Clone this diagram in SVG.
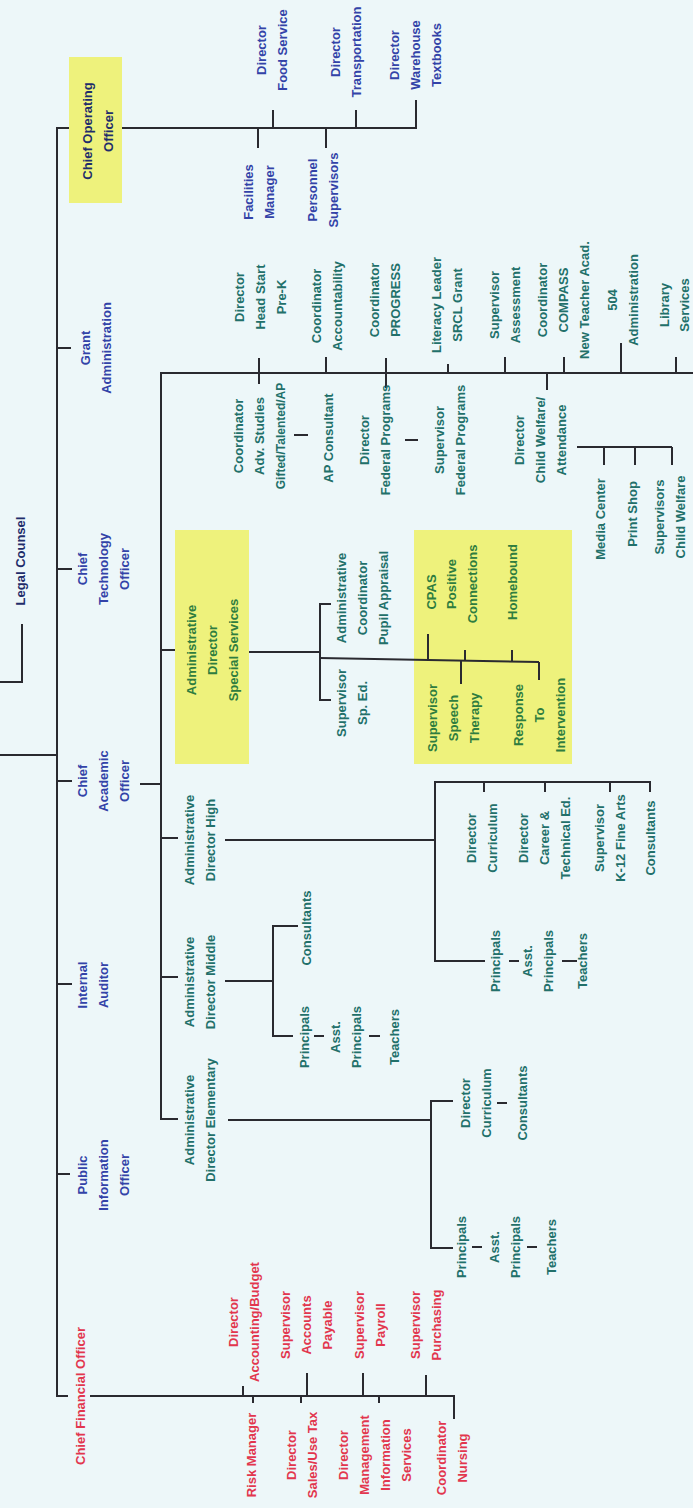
<svg xmlns="http://www.w3.org/2000/svg" width="693" height="1508" viewBox="0 0 693 1508">
<style>
text{font-family:"Liberation Sans",Arial,sans-serif;font-size:13px;font-weight:bold;text-anchor:middle}
.nv{fill:#1f2d6b}.bl{fill:#3343a8}.tl{fill:#22706a}.gr{fill:#2f7d3f}.rd{fill:#e2364e}
.sm{font-size:12px}
.box{fill:#eef27c}
#connectors line,#connectors polyline{stroke:#2a2a30;stroke-width:2;fill:none}
</style>
<rect width="693" height="1508" fill="#edf7f9"/>
<g id="n-special-services"><rect class="box" x="175" y="530" width="74" height="234"/>
<text class="gr" transform="translate(212,650) rotate(-90)"><tspan x="0" y="-16.4">Administrative</tspan><tspan x="0" y="4.6">Director</tspan><tspan x="0" y="25.6">Special Services</tspan></text></g>
<g id="highlight-programs"><rect class="box" x="414" y="530" width="158" height="234"/></g>
<g id="n-coo"><rect class="box" x="69" y="57" width="53" height="146"/>
<text class="nv" transform="translate(97.5,131) rotate(-90)"><tspan x="0" y="-5.9">Chief Operating</tspan><tspan x="0" y="15.1">Officer</tspan></text></g>

<g id="connectors">
<line x1="0" y1="755" x2="57" y2="755"/>
<polyline points="0,682 22,682 22,624"/>
<line x1="57" y1="127" x2="57" y2="1397"/>
<line x1="57" y1="128" x2="69" y2="128"/>
<line x1="122" y1="128" x2="417" y2="128"/>
<line x1="273" y1="110" x2="273" y2="128"/>
<line x1="356" y1="110" x2="356" y2="128"/>
<line x1="416" y1="100" x2="416" y2="128"/>
<line x1="258" y1="128" x2="258" y2="148"/>
<line x1="326" y1="128" x2="326" y2="148"/>
<line x1="57" y1="348" x2="71" y2="348"/>
<line x1="57" y1="569" x2="72" y2="569"/>
<line x1="57" y1="781" x2="72" y2="781"/>
<line x1="140" y1="784" x2="161" y2="784"/>
<line x1="57" y1="984" x2="72" y2="984"/>
<line x1="57" y1="1174" x2="70" y2="1174"/>
<line x1="57" y1="1396" x2="68" y2="1396"/>
<polyline points="90,1396 454,1396 454,1419"/>
<line x1="243" y1="1386" x2="243" y2="1396"/>
<line x1="307" y1="1373" x2="307" y2="1396"/>
<line x1="363" y1="1373" x2="363" y2="1396"/>
<line x1="426" y1="1375" x2="426" y2="1396"/>
<line x1="253" y1="1396" x2="253" y2="1403"/>
<line x1="301" y1="1396" x2="301" y2="1403"/>
<line x1="379" y1="1396" x2="379" y2="1403"/>
<line x1="161" y1="372" x2="161" y2="1120"/>
<line x1="161" y1="373" x2="693" y2="373"/>
<line x1="259" y1="358" x2="259" y2="384"/>
<line x1="326" y1="357" x2="326" y2="373"/>
<line x1="386" y1="358" x2="386" y2="388"/>
<line x1="448" y1="364" x2="448" y2="373"/>
<line x1="505" y1="357" x2="505" y2="373"/>
<line x1="564" y1="357" x2="564" y2="373"/>
<line x1="621" y1="343" x2="621" y2="373"/>
<line x1="676" y1="357" x2="676" y2="373"/>
<line x1="547" y1="373" x2="547" y2="390"/>
<line x1="294" y1="435" x2="308" y2="435"/>
<line x1="405" y1="440" x2="418" y2="440"/>
<line x1="577" y1="447" x2="672" y2="447"/>
<line x1="604" y1="447" x2="604" y2="465"/>
<line x1="635" y1="447" x2="635" y2="465"/>
<line x1="672" y1="447" x2="672" y2="465"/>
<line x1="161" y1="650" x2="175" y2="650"/>
<line x1="249" y1="652" x2="320" y2="652"/>
<polyline points="331,604 320,604 320,700 331,700"/>
<line x1="320" y1="658" x2="539" y2="662"/>
<line x1="428" y1="634" x2="428" y2="660"/>
<line x1="465" y1="650" x2="465" y2="661"/>
<line x1="512" y1="650" x2="512" y2="662"/>
<line x1="461" y1="661" x2="461" y2="684"/>
<line x1="539" y1="662" x2="539" y2="680"/>
<line x1="161" y1="838" x2="178" y2="838"/>
<line x1="225" y1="840" x2="435" y2="840"/>
<polyline points="485,961 435,961 435,782 650,782 650,792"/>
<line x1="484" y1="782" x2="484" y2="792"/>
<line x1="545" y1="782" x2="545" y2="792"/>
<line x1="610" y1="782" x2="610" y2="792"/>
<line x1="509" y1="961" x2="519" y2="961"/>
<line x1="562" y1="961" x2="577" y2="961"/>
<line x1="161" y1="977" x2="178" y2="977"/>
<line x1="225" y1="981" x2="273" y2="981"/>
<polyline points="298,926 273,926 273,1036 293,1036"/>
<line x1="314" y1="1036" x2="324" y2="1036"/>
<line x1="369" y1="1036" x2="380" y2="1036"/>
<line x1="161" y1="1119" x2="178" y2="1119"/>
<line x1="228" y1="1120" x2="431" y2="1120"/>
<polyline points="453,1101 431,1101 431,1248 453,1248"/>
<line x1="497" y1="1103" x2="507" y2="1103"/>
<line x1="472" y1="1247" x2="482" y2="1247"/>
<line x1="527" y1="1247" x2="537" y2="1247"/>
</g>

<g id="n-legal"><text class="nv" transform="translate(20,561) rotate(-90)"><tspan x="0" y="4.6">Legal Counsel</tspan></text></g>
<g id="n-grant"><text class="bl" transform="translate(96,348) rotate(-90)"><tspan x="0" y="-5.9">Grant</tspan><tspan x="0" y="15.1">Administration</tspan></text></g>
<g id="n-cto"><text class="bl" transform="translate(103,569) rotate(-90)"><tspan x="0" y="-16.4">Chief</tspan><tspan x="0" y="4.6">Technology</tspan><tspan x="0" y="25.6">Officer</tspan></text></g>
<g id="n-cao"><text class="bl" transform="translate(103,781) rotate(-90)"><tspan x="0" y="-16.4">Chief</tspan><tspan x="0" y="4.6">Academic</tspan><tspan x="0" y="25.6">Officer</tspan></text></g>
<g id="n-auditor"><text class="bl" transform="translate(92.5,985) rotate(-90)"><tspan x="0" y="-5.9">Internal</tspan><tspan x="0" y="15.1">Auditor</tspan></text></g>
<g id="n-pio"><text class="bl" transform="translate(103,1175) rotate(-90)"><tspan x="0" y="-16.4">Public</tspan><tspan x="0" y="4.6">Information</tspan><tspan x="0" y="25.6">Officer</tspan></text></g>
<g id="n-cfo"><text class="rd" transform="translate(80,1396) rotate(-90)"><tspan x="0" y="4.6">Chief Financial Officer</tspan></text></g>

<g id="n-food"><text class="bl" transform="translate(272,50) rotate(-90)"><tspan x="0" y="-5.9">Director</tspan><tspan x="0" y="15.1">Food Service</tspan></text></g>
<g id="n-transport"><text class="bl" transform="translate(346,52) rotate(-90)"><tspan x="0" y="-5.9">Director</tspan><tspan x="0" y="15.1">Transportation</tspan></text></g>
<g id="n-warehouse"><text class="bl" transform="translate(415,55) rotate(-90)"><tspan x="0" y="-16.4">Director</tspan><tspan x="0" y="4.6">Warehouse</tspan><tspan x="0" y="25.6">Textbooks</tspan></text></g>
<g id="n-facilities"><text class="bl" transform="translate(258.5,192) rotate(-90)"><tspan x="0" y="-5.9">Facilities</tspan><tspan x="0" y="15.1">Manager</tspan></text></g>
<g id="n-personnel"><text class="bl" transform="translate(322.5,190) rotate(-90)"><tspan x="0" y="-5.9">Personnel</tspan><tspan x="0" y="15.1">Supervisors</tspan></text></g>

<g id="n-headstart"><text class="tl" transform="translate(260,297) rotate(-90)"><tspan x="0" y="-16.4">Director</tspan><tspan x="0" y="4.6">Head Start</tspan><tspan x="0" y="25.6">Pre-K</tspan></text></g>
<g id="n-accountability"><text class="tl" transform="translate(327,306) rotate(-90)"><tspan x="0" y="-5.9">Coordinator</tspan><tspan x="0" y="15.1">Accountability</tspan></text></g>
<g id="n-progress"><text class="tl" transform="translate(385,300) rotate(-90)"><tspan x="0" y="-5.9">Coordinator</tspan><tspan x="0" y="15.1">PROGRESS</tspan></text></g>
<g id="n-literacy"><text class="tl" transform="translate(447,305) rotate(-90)"><tspan x="0" y="-5.9">Literacy Leader</tspan><tspan x="0" y="15.1">SRCL Grant</tspan></text></g>
<g id="n-assessment"><text class="tl" transform="translate(504.5,305) rotate(-90)"><tspan x="0" y="-5.9">Supervisor</tspan><tspan x="0" y="15.1">Assessment</tspan></text></g>
<g id="n-compass"><text class="tl" transform="translate(563,300) rotate(-90)"><tspan x="0" y="-16.4">Coordinator</tspan><tspan x="0" y="4.6">COMPASS</tspan><tspan x="0" y="25.6">New Teacher Acad.</tspan></text></g>
<g id="n-504"><text class="tl" transform="translate(623,300) rotate(-90)"><tspan x="0" y="-5.9">504</tspan><tspan x="0" y="15.1">Administration</tspan></text></g>
<g id="n-library"><text class="tl" transform="translate(675,305) rotate(-90)"><tspan x="0" y="-5.9">Library</tspan><tspan x="0" y="14.1">Services</tspan></text></g>

<g id="n-advstudies"><text class="tl" transform="translate(259,436) rotate(-90)"><tspan x="0" y="-16.4">Coordinator</tspan><tspan x="0" y="4.6">Adv. Studies</tspan><tspan class="sm" x="0" y="25.6">Gifted/Talented/AP</tspan></text></g>
<g id="n-apconsultant"><text class="tl" transform="translate(328,438) rotate(-90)"><tspan x="0" y="4.6">AP Consultant</tspan></text></g>
<g id="n-dir-federal"><text class="tl" transform="translate(375,440) rotate(-90)"><tspan x="0" y="-5.9">Director</tspan><tspan x="0" y="15.1">Federal Programs</tspan></text></g>
<g id="n-sup-federal"><text class="tl" transform="translate(450,440) rotate(-90)"><tspan x="0" y="-5.9">Supervisor</tspan><tspan x="0" y="15.1">Federal Programs</tspan></text></g>
<g id="n-childwelfare"><text class="tl" transform="translate(540,440) rotate(-90)"><tspan x="0" y="-16.4">Director</tspan><tspan x="0" y="4.6">Child Welfare/</tspan><tspan x="0" y="25.6">Attendance</tspan></text></g>
<g id="n-media"><text class="tl" transform="translate(600,519) rotate(-90)"><tspan x="0" y="4.6">Media Center</tspan></text></g>
<g id="n-print"><text class="tl" transform="translate(632,514) rotate(-90)"><tspan x="0" y="4.6">Print Shop</tspan></text></g>
<g id="n-sup-cw"><text class="tl" transform="translate(670,517) rotate(-90)"><tspan x="0" y="-5.9">Supervisors</tspan><tspan x="0" y="15.1">Child Welfare</tspan></text></g>

<g id="n-pupil"><text class="tl" transform="translate(362,598) rotate(-90)"><tspan x="0" y="-16.4">Administrative</tspan><tspan x="0" y="4.6">Coordinator</tspan><tspan x="0" y="25.6">Pupil Appraisal</tspan></text></g>
<g id="n-sped"><text class="tl" transform="translate(352,703) rotate(-90)"><tspan x="0" y="-5.9">Supervisor</tspan><tspan x="0" y="15.1">Sp. Ed.</tspan></text></g>
<g id="n-cpas"><text class="gr" transform="translate(431,592) rotate(-90)"><tspan x="0" y="4.6">CPAS</tspan></text></g>
<g id="n-positive"><text class="gr" transform="translate(462,584) rotate(-90)"><tspan x="0" y="-5.9">Positive</tspan><tspan x="0" y="15.1">Connections</tspan></text></g>
<g id="n-homebound"><text class="gr" transform="translate(512,582) rotate(-90)"><tspan x="0" y="4.6">Homebound</tspan></text></g>
<g id="n-speech"><text class="gr" transform="translate(453,718) rotate(-90)"><tspan x="0" y="-16.4">Supervisor</tspan><tspan x="0" y="4.6">Speech</tspan><tspan x="0" y="25.6">Therapy</tspan></text></g>
<g id="n-rti"><text class="gr" transform="translate(539,715) rotate(-90)"><tspan x="0" y="-16.4">Response</tspan><tspan x="0" y="4.6">To</tspan><tspan x="0" y="25.6">Intervention</tspan></text></g>

<g id="n-ad-high"><text class="tl" transform="translate(200,840) rotate(-90)"><tspan x="0" y="-5.9">Administrative</tspan><tspan x="0" y="15.1">Director High</tspan></text></g>
<g id="n-high-curr"><text class="tl" transform="translate(482,838) rotate(-90)"><tspan x="0" y="-5.9">Director</tspan><tspan x="0" y="15.1">Curriculum</tspan></text></g>
<g id="n-high-career"><text class="tl" transform="translate(544,838) rotate(-90)"><tspan x="0" y="-16.4">Director</tspan><tspan x="0" y="4.6">Career &amp;</tspan><tspan x="0" y="25.6">Technical Ed.</tspan></text></g>
<g id="n-high-arts"><text class="tl" transform="translate(610,838) rotate(-90)"><tspan x="0" y="-5.9">Supervisor</tspan><tspan x="0" y="15.1">K-12 Fine Arts</tspan></text></g>
<g id="n-high-cons"><text class="tl" transform="translate(650,838) rotate(-90)"><tspan x="0" y="4.6">Consultants</tspan></text></g>
<g id="n-high-prin"><text class="tl" transform="translate(495,961) rotate(-90)"><tspan x="0" y="4.6">Principals</tspan></text></g>
<g id="n-high-asst"><text class="tl" transform="translate(538,961) rotate(-90)"><tspan x="0" y="-5.9">Asst.</tspan><tspan x="0" y="15.1">Principals</tspan></text></g>
<g id="n-high-teach"><text class="tl" transform="translate(582,961) rotate(-90)"><tspan x="0" y="4.6">Teachers</tspan></text></g>

<g id="n-ad-middle"><text class="tl" transform="translate(200,982) rotate(-90)"><tspan x="0" y="-5.9">Administrative</tspan><tspan x="0" y="15.1">Director Middle</tspan></text></g>
<g id="n-mid-cons"><text class="tl" transform="translate(306,928) rotate(-90)"><tspan x="0" y="4.6">Consultants</tspan></text></g>
<g id="n-mid-prin"><text class="tl" transform="translate(304,1037) rotate(-90)"><tspan x="0" y="4.6">Principals</tspan></text></g>
<g id="n-mid-asst"><text class="tl" transform="translate(346,1037) rotate(-90)"><tspan x="0" y="-5.9">Asst.</tspan><tspan x="0" y="15.1">Principals</tspan></text></g>
<g id="n-mid-teach"><text class="tl" transform="translate(394,1037) rotate(-90)"><tspan x="0" y="4.6">Teachers</tspan></text></g>

<g id="n-ad-elem"><text class="tl" transform="translate(200,1120) rotate(-90)"><tspan x="0" y="-5.9">Administrative</tspan><tspan x="0" y="15.1">Director Elementary</tspan></text></g>
<g id="n-elem-curr"><text class="tl" transform="translate(476,1103) rotate(-90)"><tspan x="0" y="-5.9">Director</tspan><tspan x="0" y="15.1">Curriculum</tspan></text></g>
<g id="n-elem-cons"><text class="tl" transform="translate(522,1103) rotate(-90)"><tspan x="0" y="4.6">Consultants</tspan></text></g>
<g id="n-elem-prin"><text class="tl" transform="translate(461,1247) rotate(-90)"><tspan x="0" y="4.6">Principals</tspan></text></g>
<g id="n-elem-asst"><text class="tl" transform="translate(504.5,1247) rotate(-90)"><tspan x="0" y="-5.9">Asst.</tspan><tspan x="0" y="15.1">Principals</tspan></text></g>
<g id="n-elem-teach"><text class="tl" transform="translate(551,1247) rotate(-90)"><tspan x="0" y="4.6">Teachers</tspan></text></g>

<g id="n-accounting"><text class="rd" transform="translate(243.5,1322) rotate(-90)"><tspan x="0" y="-5.9">Director</tspan><tspan x="0" y="15.1">Accounting/Budget</tspan></text></g>
<g id="n-payable"><text class="rd" transform="translate(306,1325) rotate(-90)"><tspan x="0" y="-16.4">Supervisor</tspan><tspan x="0" y="4.6">Accounts</tspan><tspan x="0" y="25.6">Payable</tspan></text></g>
<g id="n-payroll"><text class="rd" transform="translate(370,1325) rotate(-90)"><tspan x="0" y="-5.9">Supervisor</tspan><tspan x="0" y="15.1">Payroll</tspan></text></g>
<g id="n-purchasing"><text class="rd" transform="translate(426,1325) rotate(-90)"><tspan x="0" y="-5.9">Supervisor</tspan><tspan x="0" y="15.1">Purchasing</tspan></text></g>
<g id="n-risk"><text class="rd" transform="translate(251,1455) rotate(-90)"><tspan x="0" y="4.6">Risk Manager</tspan></text></g>
<g id="n-salestax"><text class="rd" transform="translate(302,1455) rotate(-90)"><tspan x="0" y="-5.9">Director</tspan><tspan x="0" y="15.1">Sales/Use Tax</tspan></text></g>
<g id="n-mis"><text class="rd" transform="translate(375,1455) rotate(-90)"><tspan x="0" y="-26.9">Director</tspan><tspan x="0" y="-5.9">Management</tspan><tspan x="0" y="15.1">Information</tspan><tspan x="0" y="36.1">Services</tspan></text></g>
<g id="n-nursing"><text class="rd" transform="translate(452,1458) rotate(-90)"><tspan x="0" y="-5.9">Coordinator</tspan><tspan x="0" y="15.1">Nursing</tspan></text></g>
</svg>
